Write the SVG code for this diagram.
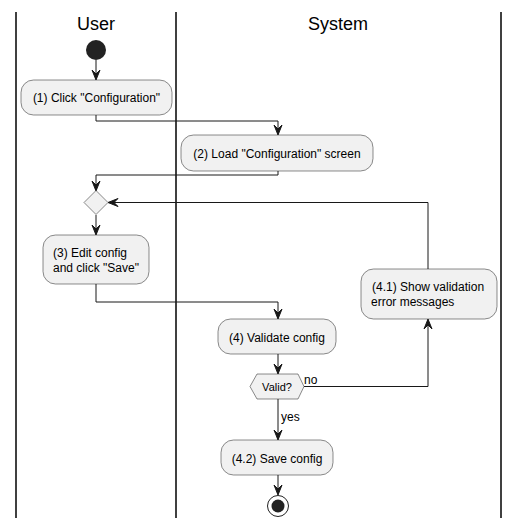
<svg xmlns="http://www.w3.org/2000/svg" width="519" height="528" viewBox="0 0 519 528">
<style>
.lane{stroke:#000;stroke-width:1.5;fill:none}
.title{font-family:"Liberation Sans",Arial,sans-serif;font-size:18px;fill:#000;text-anchor:middle}
.box{fill:#F1F1F1;stroke:#181818;stroke-width:0.5}
.t{font-family:"Liberation Sans",Arial,sans-serif;font-size:12px;fill:#000}
.c{text-anchor:middle}
.ln{stroke:#181818;stroke-width:1;fill:none}
.ah{fill:#181818;stroke:#181818;stroke-width:1}
</style>
<rect width="519" height="528" fill="#fff"/>
<g id="lanes">
<line class="lane" x1="16" y1="12" x2="16" y2="518"/>
<line class="lane" x1="176" y1="12" x2="176" y2="518"/>
<line class="lane" x1="501" y1="12" x2="501" y2="518"/>
<text class="title" x="96" y="30">User</text>
<text class="title" x="338" y="30">System</text>
</g>
<g id="connectors">
<path class="ln" d="M96,60 V79"/>
<polygon class="ah" points="92,70 96,80 100,70 96,74"/>
<path class="ln" d="M96,115 V121 H278 V134"/>
<polygon class="ah" points="274,125 278,135 282,125 278,129"/>
<path class="ln" d="M278,171 V175 H96 V190"/>
<polygon class="ah" points="92,181 96,191 100,181 96,185"/>
<path class="ln" d="M96,215 V234"/>
<polygon class="ah" points="92,225 96,235 100,225 96,229"/>
<path class="ln" d="M96,284 V302 H278 V318"/>
<polygon class="ah" points="274,309 278,319 282,309 278,313"/>
<path class="ln" d="M278,354 V373"/>
<polygon class="ah" points="274,364 278,374 282,364 278,368"/>
<path class="ln" d="M304,386.5 H428 V320"/>
<polygon class="ah" points="424,329 428,319 432,329 428,325"/>
<text class="t" x="304" y="384">no</text>
<path class="ln" d="M428,269 V202.5 H109"/>
<polygon class="ah" points="118,198.5 108,202.5 118,206.5 114,202.5"/>
<path class="ln" d="M278,399 V439"/>
<polygon class="ah" points="274,430 278,440 282,430 278,434"/>
<text class="t" x="281" y="421">yes</text>
<path class="ln" d="M278,475 V494"/>
<polygon class="ah" points="274,485 278,495 282,485 278,489"/>
</g>
<g id="start"><circle cx="96" cy="50" r="10" fill="#222"/></g>
<g id="n1">
<rect class="box" x="21" y="80" width="151" height="35" rx="12.5"/>
<text class="t c" x="96.5" y="102">(1) Click "Configuration"</text>
</g>
<g id="n2">
<rect class="box" x="181" y="135" width="192" height="36" rx="12.5"/>
<text class="t c" x="277" y="158">(2) Load "Configuration" screen</text>
</g>
<g id="merge">
<polygon class="box" points="84,202.5 96,190.5 108,202.5 96,214.5"/>
</g>
<g id="n3">
<rect class="box" x="43" y="235" width="106" height="49" rx="12.5"/>
<text class="t" x="53" y="257">(3) Edit config</text>
<text class="t" x="53" y="272">and click "Save"</text>
</g>
<g id="n41">
<rect class="box" x="361" y="269" width="136" height="50" rx="12.5"/>
<text class="t" x="372" y="291">(4.1) Show validation</text>
<text class="t" x="371" y="306">error messages</text>
</g>
<g id="n4">
<rect class="box" x="218" y="319" width="118" height="35" rx="12.5"/>
<text class="t c" x="277" y="342">(4) Validate config</text>
</g>
<g id="valid">
<polygon class="box" points="250,386.5 257,374 298,374 304,386.5 298,399 257,399"/>
<text class="t c" x="277" y="391" style="font-size:11px">Valid?</text>
</g>
<g id="n42">
<rect class="box" x="221" y="440" width="112" height="35" rx="12.5"/>
<text class="t c" x="277" y="463">(4.2) Save config</text>
</g>
<g id="end">
<circle cx="278" cy="506" r="10.5" fill="none" stroke="#222" stroke-width="1"/>
<circle cx="278" cy="506" r="6.5" fill="#222"/>
</g>
</svg>
